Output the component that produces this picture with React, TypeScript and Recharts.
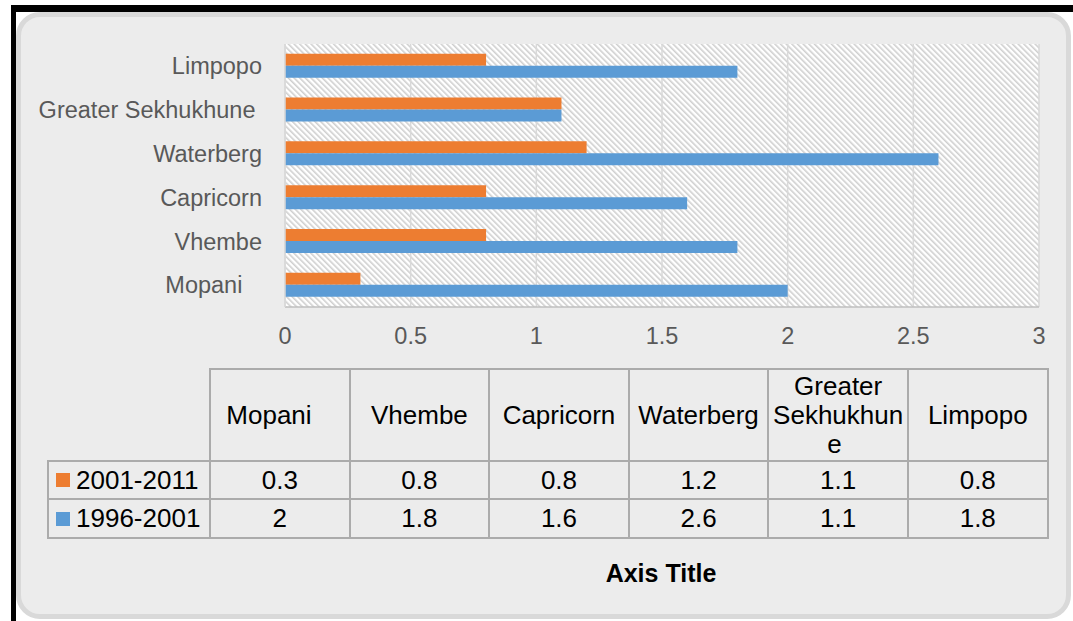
import { BarChart, Bar, XAxis, YAxis, CartesianGrid } from 'recharts';

// districts, bottom to top on the chart (left to right in the data table)
const districts = ['Mopani   ', 'Vhembe', 'Capricorn', 'Waterberg', 'Greater Sekhukhune ', 'Limpopo'];
const growth2001to2011 = [0.3, 0.8, 0.8, 1.2, 1.1, 0.8];
const growth1996to2001 = [2, 1.8, 1.6, 2.6, 1.1, 1.8];
const xTicks = [0, 0.5, 1, 1.5, 2, 2.5, 3];

const seriesNames = ['2001-2011', '1996-2001'];
const seriesColors = ['#ED7D31', '#5B9BD5'];
const seriesValues = [growth2001to2011, growth1996to2001];

const FONT = '"Liberation Sans", Arial, sans-serif';

const chartData = districts.map((name, i) => ({
  name,
  s0: growth2001to2011[i],
  s1: growth1996to2001[i],
}));

const DistrictTick = ({ x, y, payload }: any) => (
  <text
    x={x}
    y={y}
    dy="0.355em"
    textAnchor="end"
    fill="#595959"
    fontSize={23.5}
    fontFamily={FONT}
    xmlSpace="preserve"
    style={{ whiteSpace: 'pre' }}
  >
    {payload.value}
  </text>
);

const cellBorder = '2px solid #ababab';

export default function App() {
  return (
    <div style={{ position: 'absolute', left: 0, top: 0, width: 1073, height: 621, background: '#fff', overflow: 'hidden', fontFamily: FONT }}>
      <svg width={0} height={0} style={{ position: 'absolute' }}>
        <defs>
          <pattern id="hatch" width={4} height={4} patternUnits="userSpaceOnUse" patternTransform="rotate(-45)">
            <rect width={4} height={4} fill="#ffffff" />
            <rect width={1.6} height={4} fill="#cfcfcf" />
          </pattern>
        </defs>
      </svg>

      {/* black frame edges */}
      <div style={{ position: 'absolute', left: 11, top: 5, width: 1062, height: 7, background: '#000' }} />
      <div style={{ position: 'absolute', left: 11, top: 5, width: 5, height: 616, background: '#000' }} />

      {/* chart panel */}
      <div
        style={{
          position: 'absolute',
          left: 16,
          top: 12,
          width: 1055,
          height: 607,
          boxSizing: 'border-box',
          border: '5px solid #d9d9d9',
          borderRadius: 24,
          background: '#ececec',
        }}
      />

      <div style={{ position: 'absolute', left: 0, top: 0 }}>
        <BarChart
          width={1073}
          height={362}
          data={chartData}
          layout="vertical"
          margin={{ top: 44, right: 34, left: 0, bottom: 25 }}
          barGap={0}
          barCategoryGap="22%"
        >
          <CartesianGrid horizontal={false} stroke="#d9d9d9" strokeWidth={1.5} fill="url(#hatch)" fillOpacity={1} />
          <XAxis
            type="number"
            domain={[0, 3]}
            ticks={xTicks}
            height={30}
            tickSize={0}
            tickMargin={20}
            tickLine={false}
            axisLine={{ stroke: '#bfbfbf', strokeWidth: 1.5 }}
            tick={{ fill: '#595959', fontSize: 23.5, fontFamily: FONT }}
          />
          <YAxis
            type="category"
            dataKey="name"
            reversed
            width={285}
            tickSize={0}
            tickMargin={23}
            tickLine={false}
            interval={0}
            axisLine={{ stroke: '#d9d9d9', strokeWidth: 1.5 }}
            tick={<DistrictTick />}
          />
          <Bar dataKey="s0" name={seriesNames[0]} fill={seriesColors[0]} isAnimationActive={false} />
          <Bar dataKey="s1" name={seriesNames[1]} fill={seriesColors[1]} isAnimationActive={false} />
        </BarChart>
      </div>

      {/* data table */}
      <table
        style={{
          position: 'absolute',
          left: 47,
          top: 368,
          width: 1000,
          borderCollapse: 'collapse',
          tableLayout: 'fixed',
          fontSize: 26,
          lineHeight: '29px',
          color: '#000',
          fontFamily: FONT,
        }}
      >
        <colgroup>
          <col style={{ width: 162 }} />
          {districts.map((d) => (
            <col key={d} style={{ width: 139.6 }} />
          ))}
        </colgroup>
        <tbody>
          <tr style={{ height: 92 }}>
            <td style={{ borderTop: 'none', borderLeft: 'none', padding: 0 }} />
            {districts.map((d) => (
              <td
                key={d}
                style={{ border: cellBorder, padding: 0, textAlign: 'center', verticalAlign: 'middle', whiteSpace: 'pre-wrap', overflowWrap: 'anywhere' }}
              >
                {d}
              </td>
            ))}
          </tr>
          {seriesNames.map((s, si) => (
            <tr key={s} style={{ height: si === 0 ? 38 : 39 }}>
              <td style={{ border: cellBorder, padding: 0 }}>
                <div style={{ display: 'flex', alignItems: 'center', paddingLeft: 7 }}>
                  <span style={{ display: 'inline-block', width: 14, height: 14, background: seriesColors[si], marginRight: 6 }} />
                  <span>{s}</span>
                </div>
              </td>
              {seriesValues[si].map((v, i) => (
                <td key={i} style={{ border: cellBorder, padding: 0, textAlign: 'center', verticalAlign: 'middle' }}>
                  {v}
                </td>
              ))}
            </tr>
          ))}
        </tbody>
      </table>

      <div
        style={{
          position: 'absolute',
          left: 511,
          top: 561,
          width: 300,
          textAlign: 'center',
          fontSize: 25,
          lineHeight: '25px',
          fontWeight: 'bold',
          color: '#000',
          fontFamily: FONT,
        }}
      >
        Axis Title
      </div>
    </div>
  );
}
